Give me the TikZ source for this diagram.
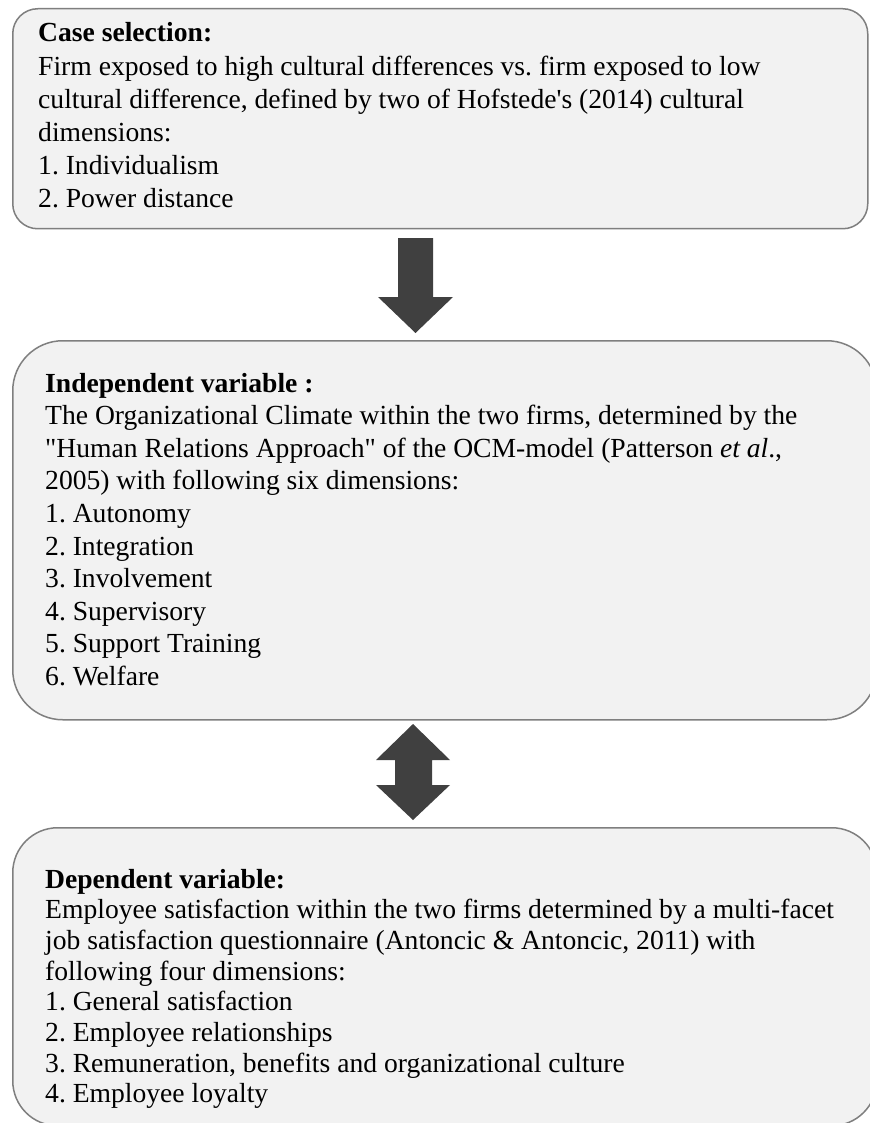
\documentclass[tikz,border=0pt]{standalone}
\usepackage{fontspec}
\setmainfont{Liberation Serif}
\definecolor{boxfill}{HTML}{F2F2F2}
\definecolor{boxline}{HTML}{7F7F7F}
\definecolor{arrowfill}{HTML}{404040}
\begin{document}
\frenchspacing
\begin{tikzpicture}[x=1pt,y=-1pt,
  box/.style={draw=boxline, fill=boxfill, line width=1.5pt, anchor=north west, inner sep=0pt},
  txt/.style={anchor=base west, inner sep=0pt, font=\fontsize{27.6}{33}\selectfont},
  blockarrow/.style={fill=arrowfill, draw=none}]
\useasboundingbox (0,0) rectangle (869,1123);
\fill[white] (0,0) rectangle (869,1123);
% boxes
\node[box, rounded corners=25pt, minimum width=855pt, minimum height=220pt] (case) at (12,8) {};
\node[box, rounded corners=50pt, minimum width=864pt, minimum height=379pt] (indep) at (12,340) {};
\node[box, rounded corners=45pt, minimum width=864pt, minimum height=298pt] (dep) at (12,827) {};
% texts
\foreach \t [count=\i] in {
  {\textbf{Case selection:}},
  {Firm exposed to high cultural differences vs. firm exposed to low},
  {cultural difference, defined by two of Hofstede\textquotesingle s (2014) cultural},
  {dimensions:},
  {1. Individualism},
  {2. Power distance}}
  \node[txt] (ct\i) at (38,{42+(\i-1)*33.2}) {\t};
\foreach \t [count=\i] in {
  {\textbf{Independent variable :}},
  {The Organizational Climate within the two firms, determined by the},
  {\textquotedbl Human Relations Approach\textquotedbl{} of the OCM-model (Patterson \textit{et al}.,},
  {2005) with following six dimensions:},
  {1. Autonomy},
  {2. Integration},
  {3. Involvement},
  {4. Supervisory},
  {5. Support Training},
  {6. Welfare}}
  \node[txt] (it\i) at (45,{392+(\i-1)*32.6}) {\t};
\foreach \t [count=\i] in {
  {\textbf{Dependent variable:}},
  {Employee satisfaction within the two firms determined by a multi-facet},
  {job satisfaction questionnaire (Antoncic \& Antoncic, 2011) with},
  {following four dimensions:},
  {1. General satisfaction},
  {2. Employee relationships},
  {3. Remuneration, benefits and organizational culture},
  {4. Employee loyalty}}
  \node[txt] (dt\i) at (45,{888+(\i-1)*30.7}) {\t};
% block arrows
\fill[blockarrow] (398,238) -- (433,238) -- (433,297) -- (453,297) -- (415.5,333)
  -- (378,297) -- (398,297) -- cycle;
\fill[blockarrow] (413,724) -- (450,760) -- (432,760) -- (432,785) -- (450,785)
  -- (413,820) -- (376,785) -- (395,785) -- (395,760) -- (376,760) -- cycle;
\end{tikzpicture}
\end{document}
